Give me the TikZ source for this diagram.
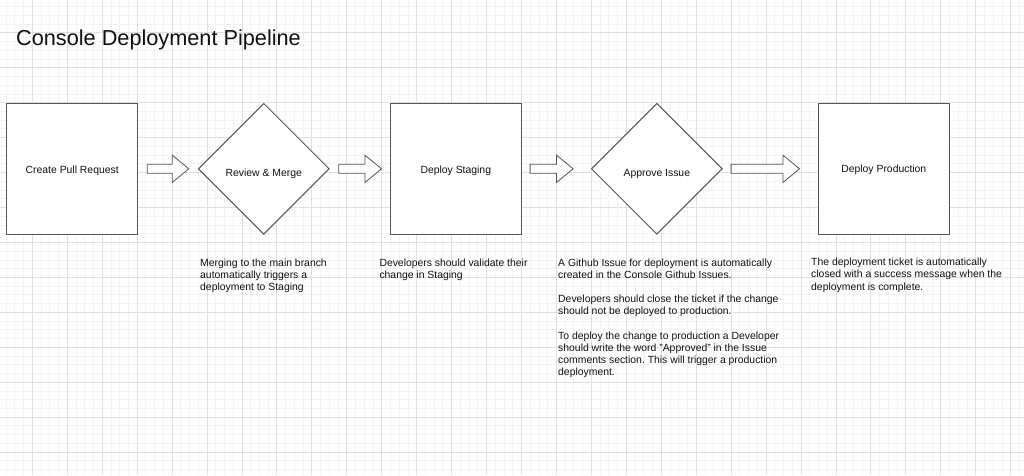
\documentclass[tikz,border=0pt]{standalone}
\usepackage{fontspec}
\setmainfont{Liberation Sans}
\usetikzlibrary{shapes.geometric,calc}
\definecolor{gridminor}{HTML}{F3F3F3}
\definecolor{gridmajor}{HTML}{E0E0E0}
\definecolor{edgecol}{HTML}{555555}
\definecolor{txtcol}{HTML}{111111}
\newcommand{\lowtext}[2]{\raisebox{-#1}[0pt][0pt]{#2}}
\tikzset{
  stepbox/.style={draw=edgecol, line width=1pt, fill=white, minimum width=131pt, minimum height=131pt, inner sep=0pt, font=\fontsize{10.4}{12.2}\selectfont, text=txtcol},
  decision/.style={diamond, draw=edgecol, line width=1pt, fill=white, minimum width=131pt, minimum height=131pt, aspect=1, inner sep=0pt, font=\fontsize{10.4}{12.2}\selectfont, text=txtcol},
  desc/.style={anchor=north west, inner sep=0pt, align=left, font=\fontsize{10.4}{12.2}\selectfont, text=txtcol},
  blockarrow/.style={draw=edgecol, line width=0.8pt, fill=white, line join=miter},
}
\begin{document}
\frenchspacing
\begin{tikzpicture}[x=1pt,y=-1pt]
\useasboundingbox (0,0) rectangle (1024,475);
\fill[white] (0,0) rectangle (1024,475);
% grid
\foreach \i in {-4,...,114} {
  \draw[gridminor, line width=0.8pt] ({32.3+\i*8.735},0) -- ({32.3+\i*8.735},475);
}
\foreach \j in {-4,...,52} {
  \draw[gridminor, line width=0.8pt] (0,{32.8+\j*8.735}) -- (1024,{32.8+\j*8.735});
}
\foreach \i in {-1,...,28} {
  \draw[gridmajor, line width=0.8pt] ({32.3+\i*34.94},0) -- ({32.3+\i*34.94},475);
}
\foreach \j in {-1,...,13} {
  \draw[gridmajor, line width=0.8pt] (0,{32.8+\j*34.94}) -- (1024,{32.8+\j*34.94});
}
% title
\node[anchor=base west, inner sep=0pt, font=\fontsize{21.7}{26}\selectfont, text=txtcol] (title) at (16,45) {Console Deployment Pipeline};
% steps
\node[stepbox] (pr) at (72.2,168.8) {\lowtext{4.2pt}{Create Pull Request}};
\node[decision] (rm) at (263.8,168.8) {\lowtext{7.6pt}{Review \& Merge}};
\node[stepbox] (ds) at (455.8,168.8) {\lowtext{4.2pt}{Deploy Staging}};
\node[decision] (ai) at (656.8,168.8) {\lowtext{7.6pt}{Approve Issue}};
\node[stepbox] (dp) at (883.8,168.8) {\lowtext{4.0pt}{Deploy Production}};
% block arrows
\coordinate (a1s) at ($(pr.east)+(9,0)$);   \coordinate (a1e) at ($(rm.west)+(-9,0)$);
\coordinate (a2s) at ($(rm.east)+(9,0)$);   \coordinate (a2e) at ($(ds.west)+(-8.3,0)$);
\coordinate (a3s) at ($(ds.east)+(8.3,0)$); \coordinate (a3e) at ($(ai.west)+(-17.7,0)$);
\coordinate (a4s) at ($(ai.east)+(8.3,0)$); \coordinate (a4e) at ($(dp.west)+(-18.3,0)$);
\foreach \s/\e in {a1s/a1e,a2s/a2e,a3s/a3e,a4s/a4e} {
  \draw[blockarrow] ($(\s)+(0,-4.5)$) -- ($(\e)+(-16.6,-4.5)$) -- ($(\e)+(-16.6,-13.7)$) -- (\e)
    -- ($(\e)+(-16.6,13.7)$) -- ($(\e)+(-16.6,4.5)$) -- ($(\s)+(0,4.5)$) -- cycle;
}
% descriptions
\node[desc] (d1) at (200,258.4) {Merging to the main branch\\automatically triggers a\\deployment to Staging};
\node[desc] (d2) at (379.3,258.4) {Developers should validate their\\change in Staging};
\node[desc] (d3) at (558,258.4) {A Github Issue for deployment is automatically\\created in the Console Github Issues.\\[12.2pt]Developers should close the ticket if the change\\should not be deployed to production.\\[12.2pt]To deploy the change to production a Developer\\should write the word "Approved" in the Issue\\comments section. This will trigger a production\\deployment.};
\node[desc] (d4) at (811,258.0) {The deployment ticket is automatically\\closed with a success message when the\\deployment is complete.};
\end{tikzpicture}
\end{document}
